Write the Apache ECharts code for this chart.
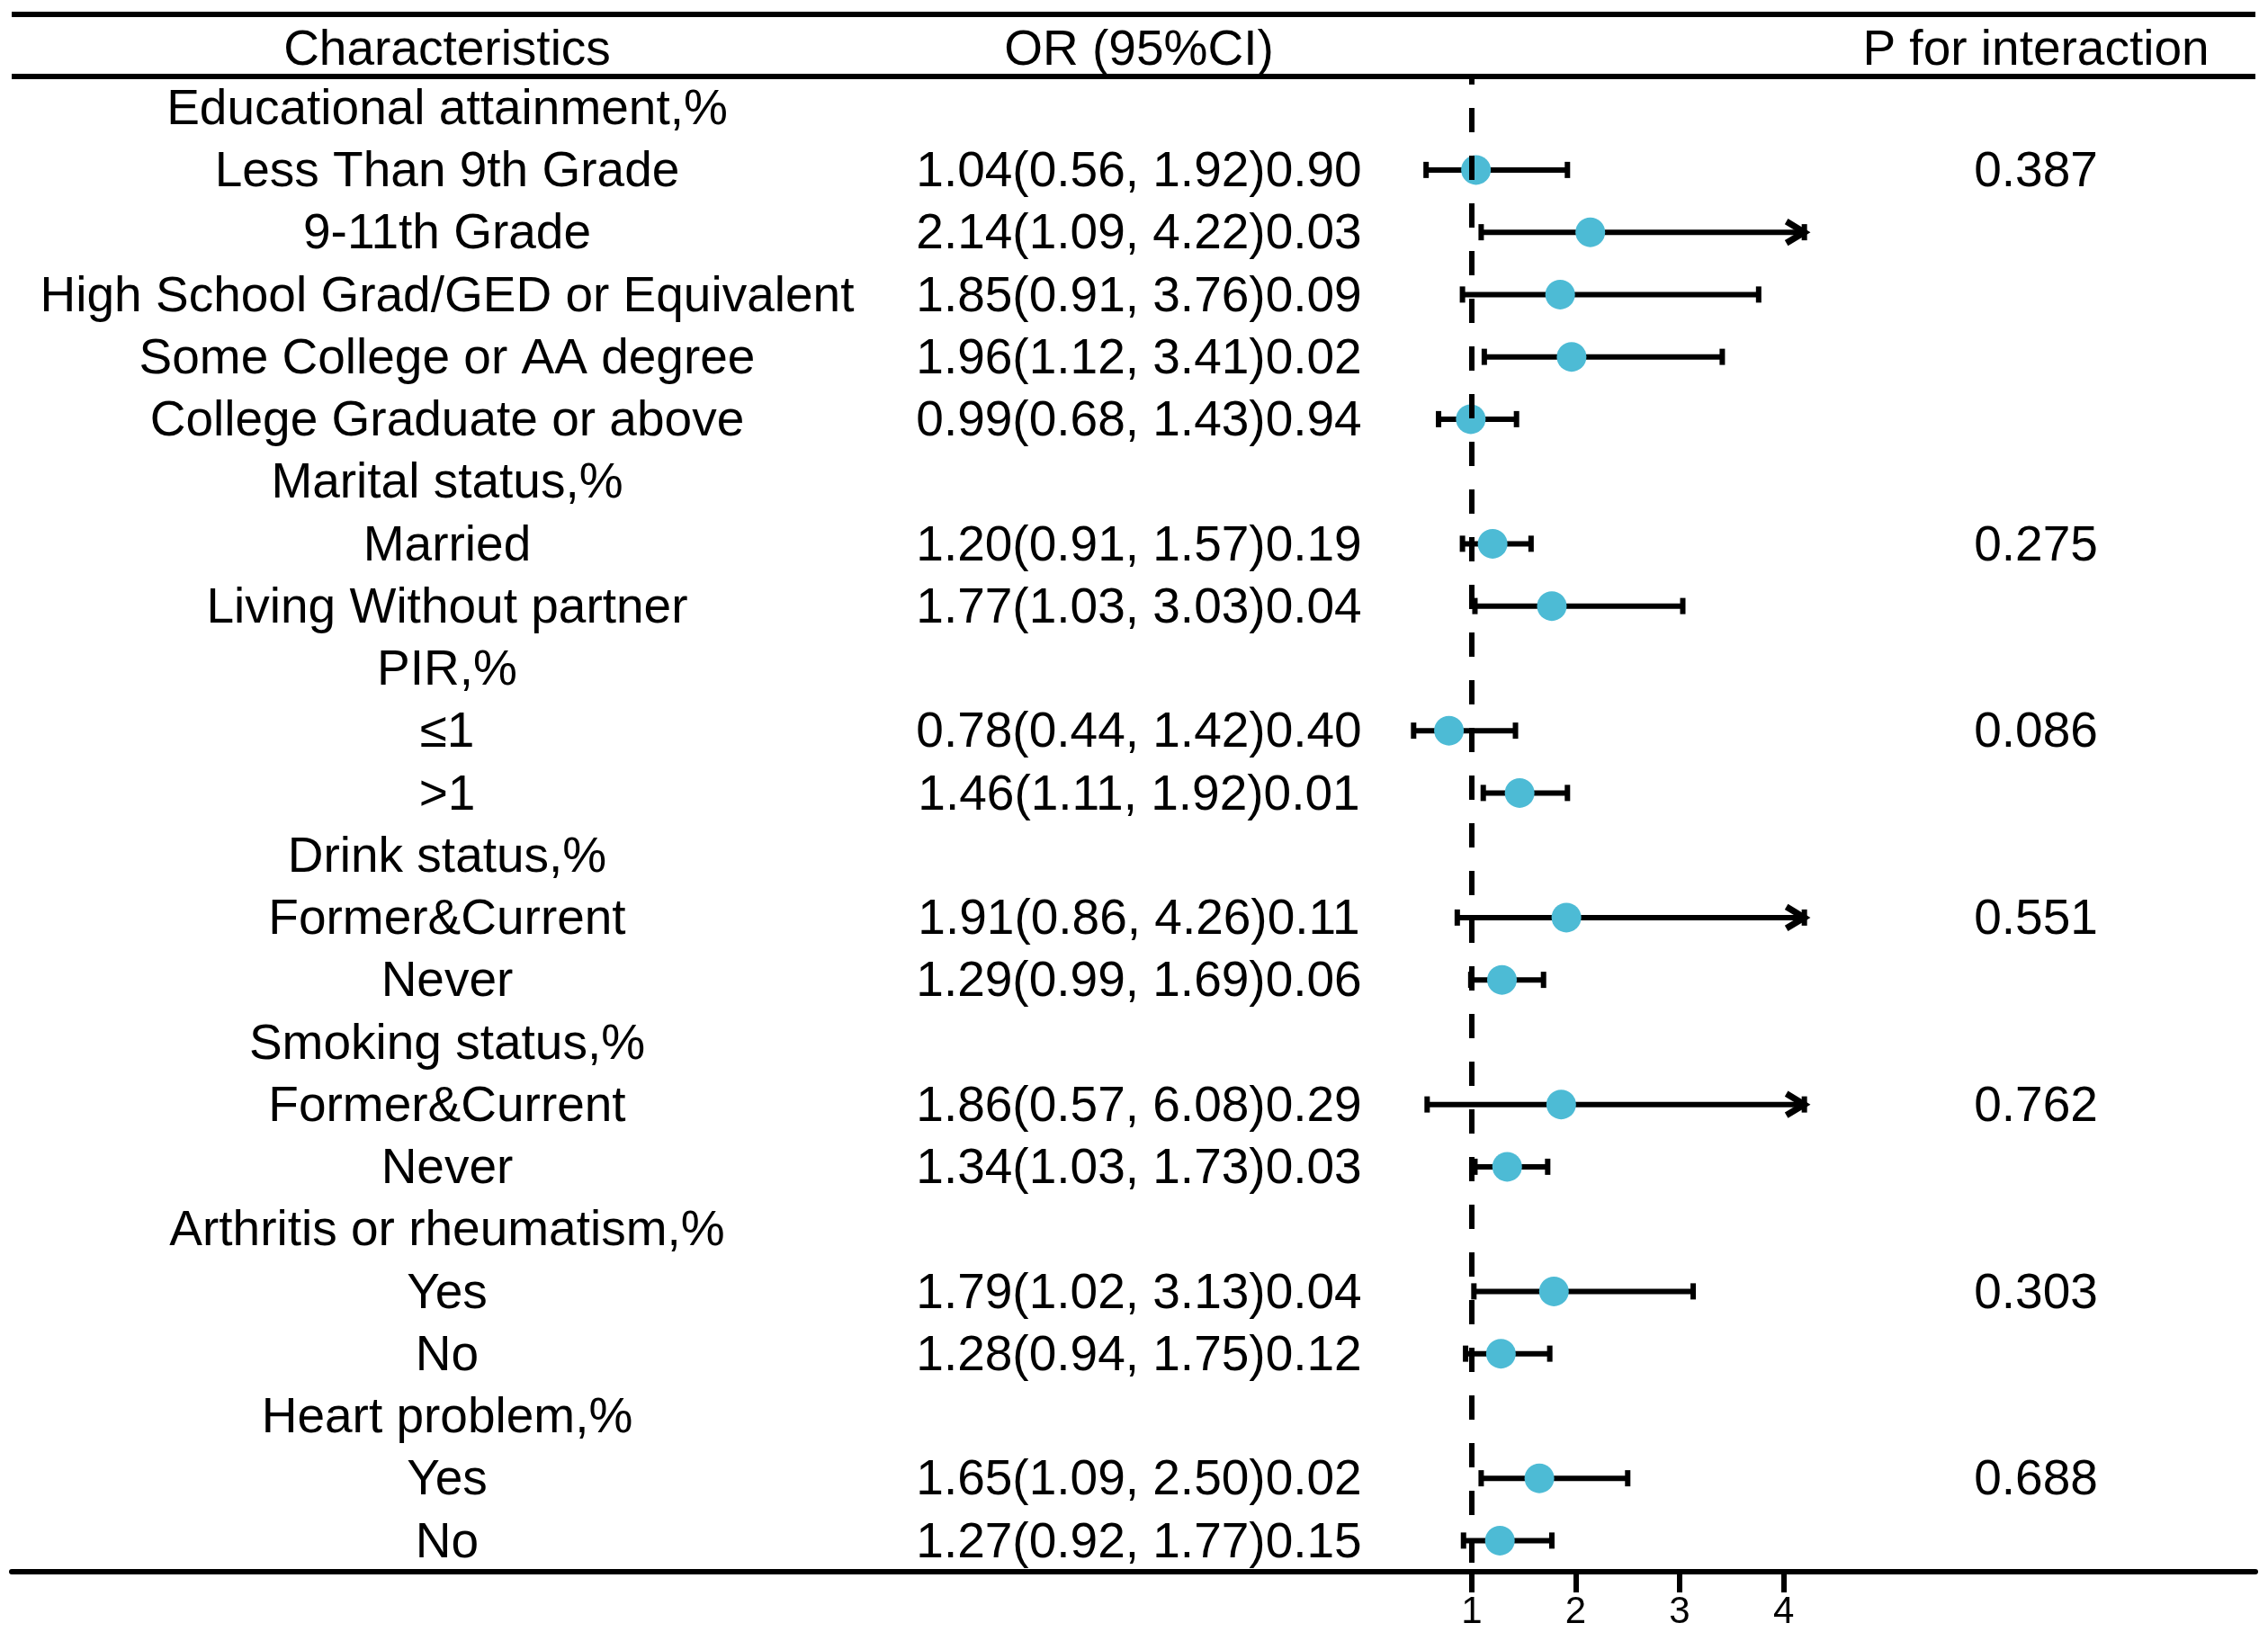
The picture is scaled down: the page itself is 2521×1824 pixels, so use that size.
<!DOCTYPE html>
<html>
<head>
<meta charset="utf-8">
<script src="https://cdn.jsdelivr.net/npm/echarts@6/dist/echarts.min.js"></script>
<style>
  html, body { margin: 0; padding: 0; background: #fff; }
  #forest { width: 2521px; height: 1824px; }
</style>
</head>
<body>
<div id="forest"></div>
<script>
// rows of the table, top to bottom
var characteristics = [
    'Educational attainment,%',
    'Less Than 9th Grade', '9-11th Grade', 'High School Grad/GED or Equivalent',
    'Some College or AA degree', 'College Graduate or above',
    'Marital status,%', 'Married', 'Living Without partner',
    'PIR,%', '≤1', '>1',
    'Drink status,%', 'Former&Current', 'Never',
    'Smoking status,%', 'Former&Current', 'Never',
    'Arthritis or rheumatism,%', 'Yes', 'No',
    'Heart problem,%', 'Yes', 'No'
];
var orValue = [null, 1.04, 2.14, 1.85, 1.96, 0.99, null, 1.20, 1.77, null, 0.78, 1.46,
    null, 1.91, 1.29, null, 1.86, 1.34, null, 1.79, 1.28, null, 1.65, 1.27];
var ciLow = [null, 0.56, 1.09, 0.91, 1.12, 0.68, null, 0.91, 1.03, null, 0.44, 1.11,
    null, 0.86, 0.99, null, 0.57, 1.03, null, 1.02, 0.94, null, 1.09, 0.92];
var ciHigh = [null, 1.92, 4.22, 3.76, 3.41, 1.43, null, 1.57, 3.03, null, 1.42, 1.92,
    null, 4.26, 1.69, null, 6.08, 1.73, null, 3.13, 1.75, null, 2.50, 1.77];
var pValue = [null, '0.90', '0.03', '0.09', '0.02', '0.94', null, '0.19', '0.04', null, '0.40', '0.01',
    null, '0.11', '0.06', null, '0.29', '0.03', null, '0.04', '0.12', null, '0.02', '0.15'];
var pInteraction = ['', '0.387', '', '', '', '', '', '0.275', '', '', '0.086', '',
    '', '0.551', '', '', '0.762', '', '', '0.303', '', '', '0.688', ''];
var xTicks = [1, 2, 3, 4];
var headers = ['Characteristics', 'OR (95%CI)', 'P for interaction'];

// layout
var FONT = '"Liberation Sans", Arial, sans-serif';
var FS = 55;
var COL_X = [497, 1266, 2263];
var LINE_L = 13, LINE_R = 2507;
var TEXT_DY = 3;
var CLIP = 4.2;

function chart() {
    var dom = document.getElementById('forest');
    var myChart = echarts.init(dom, null, { renderer: 'canvas' });

    var rowIdx = characteristics.map(function (c, i) { return i; });
    var points = [], bars = [];
    for (var i = 0; i < characteristics.length; i++) {
        if (orValue[i] == null) continue;
        points.push([orValue[i], i]);
        bars.push([i, ciLow[i], ciHigh[i]]);
    }

    function orText(i) {
        if (orValue[i] == null) return '';
        return orValue[i].toFixed(2) + '(' + ciLow[i].toFixed(2) + ', ' + ciHigh[i].toFixed(2) + ')' + pValue[i];
    }

    var option = {
        backgroundColor: '#fff',
        animation: false,
        grid: { left: LINE_L, right: 2521 - LINE_R, top: 85, bottom: 77 },
        xAxis: {
            type: 'value',
            min: -13.05,
            max: 8.54,
            splitLine: { show: false },
            axisLine: { show: true, lineStyle: { color: '#000', width: 6 } },
            axisTick: { show: true, customValues: xTicks, length: 23, lineStyle: { color: '#000', width: 6 } },
            axisLabel: { customValues: xTicks, color: '#000', fontSize: 42, fontFamily: FONT, margin: 24 }
        },
        yAxis: {
            type: 'category',
            inverse: true,
            data: characteristics,
            show: false
        },
        graphic: [
            { type: 'line', shape: { x1: LINE_L, y1: 16, x2: LINE_R, y2: 16 }, style: { stroke: '#000', lineWidth: 6 } },
            { type: 'line', shape: { x1: LINE_L, y1: 85, x2: LINE_R, y2: 85 }, style: { stroke: '#000', lineWidth: 6 } }
        ].concat(headers.map(function (h, k) {
            return {
                type: 'text', x: COL_X[k], y: 54 + TEXT_DY,
                style: { text: h, fill: '#000', font: FS + 'px ' + FONT, align: 'center', verticalAlign: 'middle' }
            };
        })),
        series: [
            {
                // text columns
                type: 'custom',
                z: 1,
                data: rowIdx.map(function (i) { return [1, i]; }),
                encode: { x: 0, y: 1 },
                renderItem: function (params, api) {
                    var i = api.value(1);
                    var y = api.coord([1, i])[1] + TEXT_DY;
                    var texts = [characteristics[i], orText(i), pInteraction[i]];
                    return {
                        type: 'group',
                        children: texts.map(function (t, k) {
                            return {
                                type: 'text', x: COL_X[k], y: y,
                                style: { text: t, fill: '#000', font: FS + 'px ' + FONT, align: 'center', verticalAlign: 'middle' }
                            };
                        })
                    };
                }
            },
            {
                // confidence intervals
                type: 'custom',
                z: 2,
                data: bars,
                encode: { x: [1, 2], y: 0 },
                renderItem: function (params, api) {
                    var row = api.value(0), lo = api.value(1), hi = api.value(2);
                    var arrow = hi > CLIP;
                    var a = api.coord([lo, row]);
                    var b = api.coord([arrow ? CLIP : hi, row]);
                    var st = { stroke: '#000', lineWidth: 6 };
                    var kids = [
                        { type: 'line', shape: { x1: a[0], y1: a[1], x2: b[0], y2: b[1] }, style: st },
                        { type: 'line', shape: { x1: a[0], y1: a[1] - 9, x2: a[0], y2: a[1] + 9 }, style: st },
                        { type: 'line', shape: { x1: b[0], y1: b[1] - 9, x2: b[0], y2: b[1] + 9 }, style: st }
                    ];
                    if (arrow) {
                        kids.push({
                            type: 'polyline',
                            shape: { points: [[b[0] - 20, b[1] - 12], [b[0], b[1]], [b[0] - 20, b[1] + 12]] },
                            style: { stroke: '#000', lineWidth: 7, fill: null }
                        });
                    }
                    return { type: 'group', children: kids };
                }
            },
            {
                type: 'scatter',
                z: 3,
                data: points,
                symbol: 'circle',
                symbolSize: 33,
                itemStyle: { color: '#4DBBD5', opacity: 1 }
            },
            {
                // reference line at OR = 1
                type: 'scatter',
                z: 4,
                data: [],
                markLine: {
                    silent: true,
                    symbol: ['none', 'none'],
                    label: { show: false },
                    lineStyle: { color: '#000', width: 6, type: [27, 26], dashOffset: 18 },
                    data: [{ xAxis: 1 }]
                }
            }
        ]
    };
    myChart.setOption(option, true);
}
chart();
</script>
</body>
</html>
